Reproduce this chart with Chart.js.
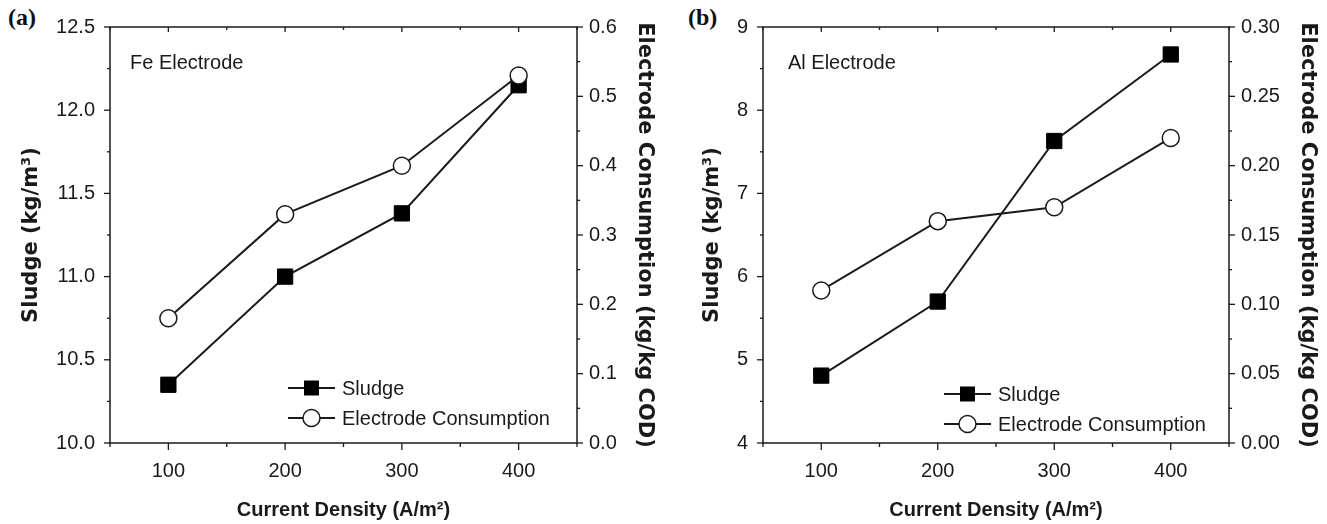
<!DOCTYPE html>
<html>
<head>
<meta charset="utf-8">
<script src="https://cdn.jsdelivr.net/npm/chart.js@4.4.1/dist/chart.umd.min.js"></script>
<style>
  html, body { margin:0; padding:0; background:#fff; }
  body { width:1327px; height:524px; position:relative; overflow:hidden; }
  .panel { position:absolute; top:0; }
  .tag { position:absolute; top:4px; font:bold 24px "Liberation Serif", serif; color:#111; }
</style>
</head>
<body>
<div class="tag" style="left:8px">(a)</div>
<div class="tag" style="left:688px">(b)</div>
<canvas id="chartA" class="panel" style="left:0" width="660" height="524"></canvas>
<canvas id="chartB" class="panel" style="left:660px" width="667" height="524"></canvas>
<script>
// current density (A/m2)
const currentDensity = [100, 200, 300, 400];
// Fe electrode
const feSludge = [10.35, 11.0, 11.38, 12.15];
const feConsumption = [0.18, 0.33, 0.40, 0.53];
// Al electrode
const alSludge = [4.81, 5.70, 7.63, 8.67];
const alConsumption = [0.11, 0.16, 0.17, 0.22];

const INK = '#1a1a1a';
const tickFont = { family: 'Liberation Sans, Arial, sans-serif', size: 20 };

const isMajor = (v, step) => Math.abs(v / step - Math.round(v / step)) < 1e-6;
const fmt = (step, dec) => v => isMajor(v, step) ? Number(v).toFixed(dec) : '';

// frame, major/minor tick marks, note and legend
const panelDecor = {
  id: 'panelDecor',
  afterDraw(chart, args, o){
    const ctx = chart.ctx, a = chart.chartArea;
    ctx.save();
    ctx.strokeStyle = INK; ctx.lineWidth = 1.5;
    ctx.strokeRect(a.left, a.top, a.right - a.left, a.bottom - a.top);
    ctx.lineWidth = 1.3;
    const xs = chart.scales.x;
    xs.ticks.forEach((t, i) => {
      const p = xs.getPixelForTick(i), len = t.label ? 7 : 4;
      ctx.beginPath();
      ctx.moveTo(p, a.bottom); ctx.lineTo(p, a.bottom + len);
      ctx.moveTo(p, a.top); ctx.lineTo(p, a.top + (t.label ? 5 : 3));
      ctx.stroke();
    });
    ['y', 'y1'].forEach(id => {
      const s = chart.scales[id], edge = id === 'y' ? a.left : a.right, dir = id === 'y' ? -1 : 1;
      s.ticks.forEach((t, i) => {
        const p = s.getPixelForTick(i), len = t.label ? 6 : 3;
        ctx.beginPath(); ctx.moveTo(edge, p); ctx.lineTo(edge + dir * len, p); ctx.stroke();
      });
    });
    // note
    ctx.fillStyle = INK;
    ctx.font = '20px "Liberation Sans", Arial, sans-serif';
    ctx.textBaseline = 'middle'; ctx.textAlign = 'left';
    ctx.fillText(o.note, a.left + o.noteX, a.top + 36);
    // legend
    chart.data.datasets.forEach((d, i) => {
      const x0 = a.left + o.legX, y = a.top + o.legY + i * 30, x1 = x0 + 47, cx = (x0 + x1) / 2;
      ctx.strokeStyle = INK; ctx.lineWidth = 2;
      ctx.beginPath(); ctx.moveTo(x0, y); ctx.lineTo(x1, y); ctx.stroke();
      if (d.pointStyle === 'rect') {
        ctx.fillStyle = '#000'; ctx.fillRect(cx - 7.5, y - 7.5, 15, 15);
      } else {
        ctx.fillStyle = '#fff'; ctx.lineWidth = 1.5;
        ctx.beginPath(); ctx.arc(cx, y, 8.5, 0, Math.PI * 2); ctx.fill(); ctx.stroke();
      }
      ctx.fillStyle = INK;
      ctx.fillText(d.label, x1 + 7, y + 1);
    });
    ctx.restore();
  }
};

const noGrid = { display: false, drawTicks: false };

function makePanel(canvasId, cfg){
  const sludge = {
    label: 'Sludge', yAxisID: 'y', order: 1,
    data: currentDensity.map((x, i) => ({ x, y: cfg.sludge[i] })),
    borderColor: INK, borderWidth: 2, pointStyle: 'rect', pointRadius: 10.8,
    pointBackgroundColor: '#000', pointBorderColor: '#000', pointBorderWidth: 1
  };
  const cons = {
    label: 'Electrode Consumption', yAxisID: 'y1', order: 0,
    data: currentDensity.map((x, i) => ({ x, y: cfg.cons[i] })),
    borderColor: INK, borderWidth: 2, pointStyle: 'circle', pointRadius: 8.5,
    pointBackgroundColor: '#fff', pointBorderColor: INK, pointBorderWidth: 1.5
  };
  return new Chart(document.getElementById(canvasId), {
    type: 'line',
    data: { datasets: [sludge, cons] },
    plugins: [panelDecor],
    options: {
      responsive: false, animation: false,
      layout: { padding: { top: 20, left: 0, right: 0, bottom: 0 } },
      plugins: {
        legend: { display: false }, tooltip: { enabled: false },
        panelDecor: cfg.decor
      },
      scales: {
        x: {
          type: 'linear', min: 50, max: 450,
          ticks: { stepSize: 50, autoSkip: false, maxRotation: 0, padding: 16, color: INK, font: tickFont, callback: fmt(100, 0) },
          grid: noGrid, border: { display: false },
          title: { display: true, text: 'Current Density (A/m²)', color: INK, padding: { bottom: 2 },
                   font: { family: 'Liberation Sans, Arial, sans-serif', size: 20, weight: 'bold' } },
          afterFit: s => { s.height = 81; }
        },
        y: {
          position: 'left', min: cfg.left.min, max: cfg.left.max,
          ticks: { stepSize: cfg.left.minor, autoSkip: false, padding: 15, color: INK, font: tickFont,
                   callback: fmt(cfg.left.major, cfg.left.dec) },
          grid: noGrid, border: { display: false },
          title: { display: true, text: 'Sludge (kg/m³)', color: INK, padding: { top: cfg.leftTitlePad },
                   font: { family: 'DejaVu Sans, sans-serif', size: 21, weight: 'bold' } },
          afterFit: s => { s.width = cfg.leftW; }
        },
        y1: {
          position: 'right', min: cfg.right.min, max: cfg.right.max,
          ticks: { stepSize: cfg.right.minor, autoSkip: false, padding: 12, color: INK, font: tickFont,
                   callback: fmt(cfg.right.major, cfg.right.dec) },
          grid: noGrid, border: { display: false },
          title: { display: true, text: 'Electrode Consumption (kg/kg COD)', color: INK, padding: { top: cfg.rightTitlePad },
                   font: { family: 'DejaVu Sans, sans-serif', size: 21, weight: 'bold' } },
          afterFit: s => { s.width = cfg.rightW; }
        }
      }
    }
  });
}

makePanel('chartA', {
  sludge: feSludge, cons: feConsumption,
  left: { min: 10, max: 12.5, minor: 0.25, major: 0.5, dec: 1 },
  right: { min: 0, max: 0.6, minor: 0.05, major: 0.1, dec: 1 },
  leftW: 110, rightW: 83, leftTitlePad: 19, rightTitlePad: 3,
  decor: { note: 'Fe Electrode', noteX: 20, legX: 178, legY: 361 }
});

makePanel('chartB', {
  sludge: alSludge, cons: alConsumption,
  left: { min: 4, max: 9, minor: 0.5, major: 1, dec: 0 },
  right: { min: 0, max: 0.30, minor: 0.025, major: 0.05, dec: 2 },
  leftW: 103, rightW: 98, leftTitlePad: 40, rightTitlePad: 7,
  decor: { note: 'Al Electrode', noteX: 25, legX: 181, legY: 367 }
});
</script>
</body>
</html>
